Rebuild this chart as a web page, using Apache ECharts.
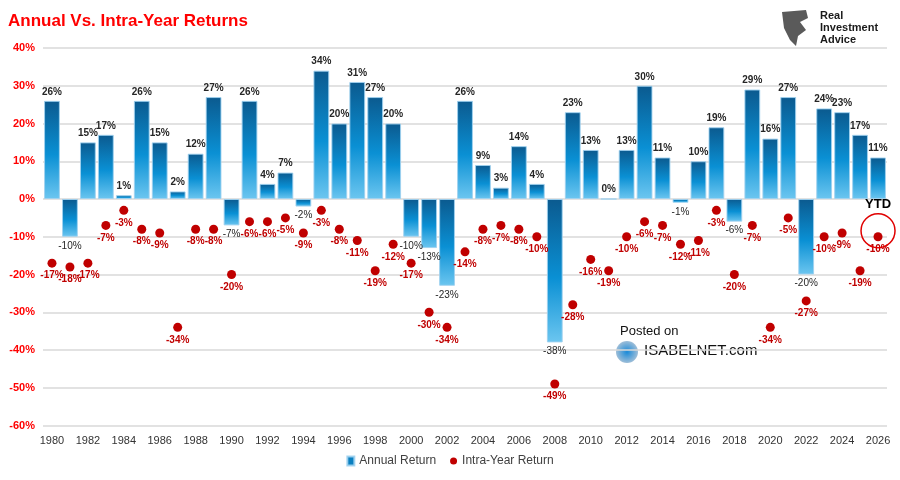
<!DOCTYPE html>
<html>
<head>
<meta charset="utf-8">
<script src="https://cdn.jsdelivr.net/npm/echarts@6/dist/echarts.min.js"></script>
<style>
  html, body { margin: 0; padding: 0; background: #fff; }
  #chart { width: 900px; height: 480px; }
</style>
</head>
<body>
<div id="chart"></div>
<script>
// 年份 1980 - 2026 (2026 为 YTD)
var years = ['1980', '1981', '1982', '1983', '1984', '1985', '1986', '1987', '1988', '1989',
  '1990', '1991', '1992', '1993', '1994', '1995', '1996', '1997', '1998', '1999',
  '2000', '2001', '2002', '2003', '2004', '2005', '2006', '2007', '2008', '2009',
  '2010', '2011', '2012', '2013', '2014', '2015', '2016', '2017', '2018', '2019',
  '2020', '2021', '2022', '2023', '2024', '2025', '2026'];

// 年度回报 %
var annualReturn = [26, -10, 15, 17, 1, 26, 15, 2, 12, 27,
  -7, 26, 4, 7, -2, 34, 20, 31, 27, 20,
  -10, -13, -23, 26, 9, 3, 14, 4, -38, 23,
  13, 0, 13, 30, 11, -1, 10, 19, -6, 29,
  16, 27, -20, 24, 23, 17, 11];

// 年内最大回撤 %
var intraYear = [-17, -18, -17, -7, -3, -8, -9, -34, -8, -8,
  -20, -6, -6, -5, -9, -3, -8, -11, -19, -12,
  -17, -30, -34, -14, -8, -7, -8, -10, -49, -28,
  -16, -19, -10, -6, -7, -12, -11, -3, -20, -7,
  -34, -5, -27, -10, -9, -19, -10];

var yTicks = { min: -60, max: 40, interval: 10 };

var barColor = new echarts.graphic.LinearGradient(0, 0, 0, 1, [
  { offset: 0, color: '#0b5a8f' },
  { offset: 0.55, color: '#0a90d4' },
  { offset: 1, color: '#6cc6f0' }
]);

var barData = annualReturn.map(function (v) {
  return {
    value: v,
    label: {
      position: v < 0 ? 'bottom' : 'top',
      fontWeight: v < 0 ? 'normal' : 'bold'
    }
  };
});

var myChart = echarts.init(document.getElementById('chart'));

var option = {
  animation: false,
  textStyle: { fontFamily: 'Arial, "Liberation Sans", sans-serif' },
  title: {
    text: 'Annual Vs. Intra-Year Returns',
    left: 3,
    top: 8,
    textStyle: { color: '#ff0000', fontSize: 17, fontWeight: 'bold' }
  },
  legend: {
    bottom: 8,
    left: 'center',
    itemGap: 14,
    textStyle: { color: '#404040', fontSize: 12 },
    data: [
      { name: 'Annual Return', icon: 'rect', itemStyle: { color: '#0a7fc0' } },
      { name: 'Intra-Year Return', icon: 'circle' }
    ],
    itemWidth: 7,
    itemHeight: 9
  },
  grid: { left: 43, right: 13, top: 48, bottom: 54.5 },
  xAxis: {
    type: 'category',
    data: years,
    axisLine: { show: false, onZero: false },
    axisTick: { show: false },
    axisLabel: { interval: 1, color: '#333', fontSize: 11, margin: 10 }
  },
  yAxis: {
    type: 'value',
    min: yTicks.min,
    max: yTicks.max,
    interval: yTicks.interval,
    axisLine: { show: false },
    axisTick: { show: false },
    axisLabel: {
      formatter: '{value}%',
      color: '#ff0000',
      fontWeight: 'bold',
      fontSize: 11,
      margin: 8
    },
    splitLine: { lineStyle: { color: '#d9d9d9', width: 1.5 } }
  },
  series: [
    {
      name: 'Annual Return',
      type: 'bar',
      data: barData,
      barCategoryGap: '12%',
      itemStyle: {
        color: barColor,
        borderColor: 'rgba(160,210,240,0.9)',
        borderWidth: 1
      },
      label: {
        show: true,
        formatter: '{c}%',
        color: '#262626',
        fontSize: 10,
        distance: 4
      }
    },
    {
      name: 'Intra-Year Return',
      type: 'scatter',
      data: intraYear,
      symbolSize: 9,
      itemStyle: { color: '#c00000', opacity: 1 },
      label: {
        show: true,
        position: 'bottom',
        distance: 3,
        formatter: '{c}%',
        color: '#c00000',
        fontSize: 10,
        fontWeight: 'bold'
      },
      markPoint: {
        symbol: 'circle',
        symbolSize: 34,
        symbolOffset: [0, -6],
        silent: true,
        itemStyle: { color: 'rgba(255,255,255,0)', borderColor: '#e00000', borderWidth: 1.5 },
        label: {
          show: true,
          position: 'top',
          distance: 2,
          formatter: 'YTD',
          color: '#000',
          fontSize: 13,
          fontWeight: 'bold'
        },
        data: [{ coord: [years[years.length - 1], intraYear[intraYear.length - 1]] }]
      }
    }
  ],
  graphic: [
    // 右上角 logo
    {
      type: 'polygon',
      shape: { points: [[782, 12], [806, 10], [808, 18], [800, 22], [806, 30], [798, 36], [796, 46], [790, 40], [784, 28]] },
      style: { fill: '#5a5a5a' }
    },
    {
      type: 'text', left: 820, top: 10,
      style: { text: 'Real\nInvestment\nAdvice', fill: '#1a1a1a', font: 'bold 11px Arial, "Liberation Sans"', lineHeight: 12 }
    },
    // 水印
    {
      type: 'text', left: 620, top: 325,
      style: { text: 'Posted on', fill: '#111', font: '13px Arial, "Liberation Sans"' }
    },
    {
      type: 'circle', shape: { cx: 627, cy: 352, r: 11 },
      style: {
        fill: new echarts.graphic.RadialGradient(0.5, 0.5, 0.6, [
          { offset: 0, color: '#1a8ad8' }, { offset: 1, color: '#b8c8d8' }
        ])
      }
    },
    {
      type: 'text', left: 644, top: 343,
      style: { text: 'ISABELNET.com', fill: '#111', font: '15px Arial, "Liberation Sans"' }
    }
  ]
};

myChart.setOption(option);
window.addEventListener('resize', function () {
  myChart.resize();
});
</script>
</body>
</html>
